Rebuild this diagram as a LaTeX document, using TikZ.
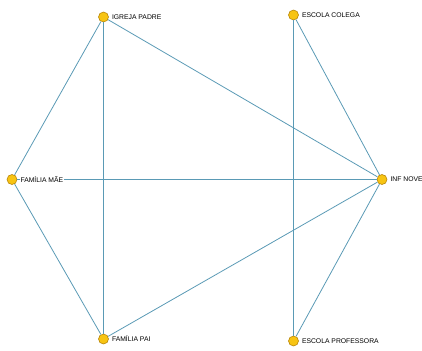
\documentclass[tikz,border=0pt]{standalone}
\usepackage{fontspec}
\setmainfont{Liberation Sans}
\usepackage{xcolor}
\usetikzlibrary{positioning}
\definecolor{tiecol}{HTML}{5A9AB5}
\definecolor{actfill}{HTML}{F7C413}
\definecolor{actdraw}{HTML}{B8860B}

\begin{document}
\begin{tikzpicture}[x=1pt, y=-1pt,
  actor/.style={circle, draw=actdraw, fill=actfill, line width=0.6pt, inner sep=0pt, minimum size=10pt},
  lbl/.style={font=\fontsize{6.8}{8}\selectfont, fill=white, inner sep=0.5pt, anchor=west, xshift=2.5pt},
  tie/.style={draw=tiecol, line width=0.8pt}
]
  \useasboundingbox (0,0) rectangle (422,350);
  \foreach \name/\x/\y in {P/103.5/17, C/293.5/15, M/12/179.5, I/382/179.5, F/103.5/339, E/293.5/341}{
    \node[actor] (\name) at (\x,\y) {};
  }
  \foreach \a/\b in {P/M, P/F, P/I, C/E, C/I, M/I, M/F, F/I, E/I}{
    \draw[tie] (\a) -- (\b);
  }
  % labels on top of the ties
  \foreach \name/\txt in {P/IGREJA PADRE, C/ESCOLA COLEGA, M/FAMÍLIA MÃE,
      I/INF NOVE, F/FAMÍLIA PAI, E/ESCOLA PROFESSORA}{
    \node[lbl, right=0pt of \name] (\name-l) {\txt};
  }
\end{tikzpicture}
\end{document}
